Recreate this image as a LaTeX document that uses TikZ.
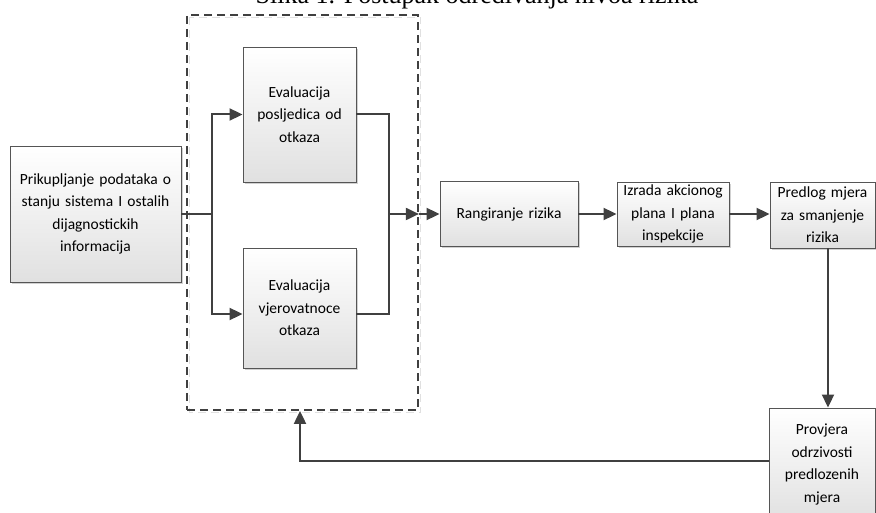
\documentclass[tikz,border=0pt]{standalone}
\usepackage{fontspec}
\setmainfont{Carlito}
\newfontfamily\titlefont{Liberation Serif}
\usetikzlibrary{arrows.meta,shadows,calc}

\definecolor{linegray}{HTML}{404040}
\definecolor{edgegray}{HTML}{555555}

\tikzset{
  procbox/.style={
    draw=edgegray, line width=0.9pt, inner sep=0pt,
    top color=white, bottom color=black!12,
    drop shadow={shadow xshift=2pt, shadow yshift=-2pt, fill=black, opacity=0.18},
    align=center, font=\fontsize{15.5}{22.5}\selectfont
  },
  flow/.style={draw=linegray, line width=2pt},
  arr/.style={flow, -{Triangle[length=13pt,width=12pt]}},
  groupbox/.style={draw=linegray, line width=1.8pt, dash pattern=on 8pt off 5pt}
}

\begin{document}
\begin{tikzpicture}[x=1pt, y=-1pt]
  \useasboundingbox (0,0) rectangle (876,513);

  % caption line above the diagram
  \node[anchor=base, font=\titlefont\fontsize{26}{30}\selectfont, inner sep=0pt]
    (title) at (477,4) {Slika 1. Postupak određivanja nivoa rizika};

  % dashed group around the two evaluations
  \draw[draw=black!12, line width=1.8pt, dash pattern=on 8pt off 5pt]
    (189.5,17.5) rectangle (420.5,412.5);
  \node[groupbox, minimum width=231pt, minimum height=395pt, inner sep=0pt]
    (grp) at (302.5,212.5) {};

  % process boxes
  \node[procbox, minimum width=171pt, minimum height=136pt, text width=165pt]
    (A) at (95.5,214) {Prikupljanje podataka o\\stanju sistema I ostalih\\dijagnostickih\\informacija};
  \node[procbox, minimum width=113pt, minimum height=135pt, text width=108pt]
    (E1) at (299.5,114.5) {Evaluacija\\posljedica od\\otkaza};
  \node[procbox, minimum width=113pt, minimum height=120pt, text width=108pt]
    (E2) at (299.5,308) {Evaluacija\\vjerovatnoce\\otkaza};
  \node[procbox, minimum width=138pt, minimum height=65pt, text width=132pt]
    (R) at (509,214) {Rangiranje rizika};
  \node[procbox, minimum width=112pt, minimum height=64pt, text width=108pt]
    (I) at (673,214) {Izrada akcionog\\plana I plana\\inspekcije};
  \node[procbox, minimum width=105pt, minimum height=66pt, text width=102pt]
    (P) at (822.5,215) {Predlog mjera\\za smanjenje\\rizika};
  \node[procbox, minimum width=106pt, minimum height=113pt, text width=102pt]
    (V) at (822,464.5) {Provjera\\odrzivosti\\predlozenih\\mjera};

  % branch and merge points
  \coordinate (jL) at (212,214);
  \coordinate (jR) at (389,214);
  \coordinate (e2in) at ([yshift=-6pt]E2.west);
  \coordinate (e2out) at ([yshift=-6pt]E2.east);
  \coordinate (pdown) at (828,0);
  \coordinate (vin) at (0,461);
  \coordinate (back) at (300,0);

  % connectors
  \draw[flow] (A.east) -- (jL);
  \draw[arr] (jL) |- (E1.west);
  \draw[arr] (jL) |- (e2in);
  \draw[flow] (E1.east) -| (jR);
  \draw[flow] (e2out) -| (jR);
  \draw[arr] (jR) -- (grp.east |- jR);
  \draw[arr] (grp.east |- jR) -- (R.west);
  \draw[arr] (R.east) -- (I.west);
  \draw[arr] (I.east) -- (P.west |- I.east);
  \draw[arr] (pdown |- P.south) -- (pdown |- V.north);
  \draw[arr] (V.west |- vin) -| (back |- grp.south);
\end{tikzpicture}
\end{document}
